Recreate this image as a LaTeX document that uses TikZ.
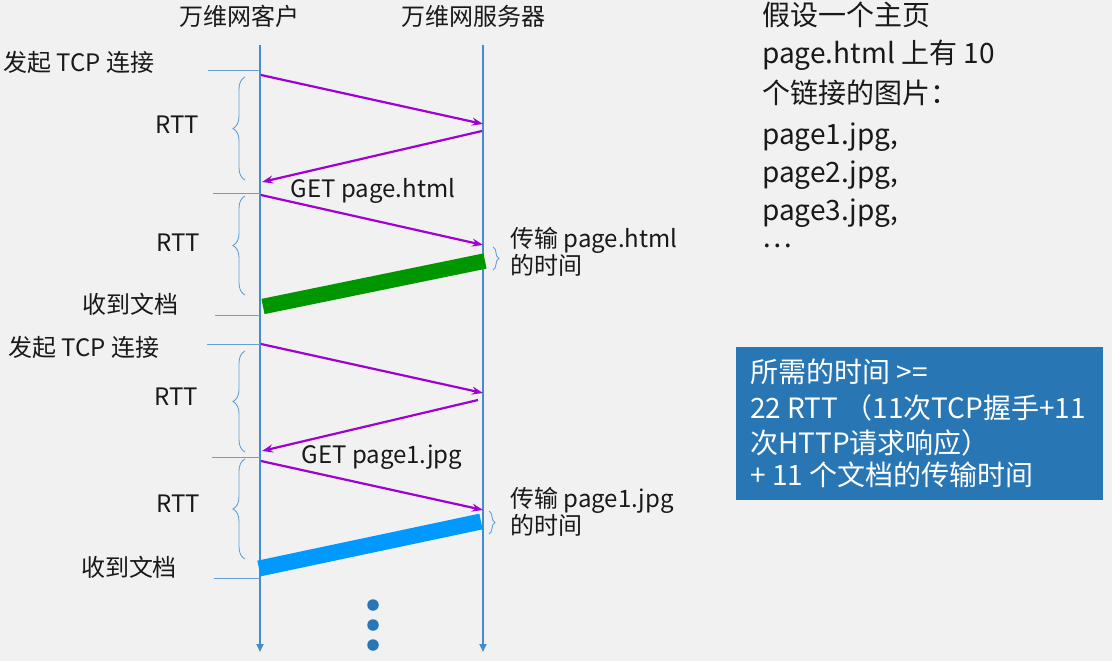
\documentclass[tikz,border=0pt]{standalone}
\usepackage{fontspec}
\setmainfont{Noto Sans CJK SC}
\usetikzlibrary{arrows.meta,decorations.pathreplacing}
\definecolor{bg}{RGB}{241,241,241}
\definecolor{lifeline}{RGB}{70,140,200}
\definecolor{tickc}{RGB}{100,160,215}
\definecolor{msg}{RGB}{160,0,210}
\definecolor{greenbar}{RGB}{0,150,0}
\definecolor{bluebar}{RGB}{0,153,255}
\definecolor{boxblue}{RGB}{40,118,180}
\definecolor{dotc}{RGB}{40,118,180}
\definecolor{ink}{RGB}{25,25,25}
\begin{document}
\begin{tikzpicture}[x=1pt,y=-1pt,
  lbl/.style={font=\fontsize{24}{28}\selectfont, inner sep=0pt, text=ink},
  big/.style={font=\fontsize{28}{34}\selectfont, inner sep=0pt, text=ink, anchor=base west},
  boxtxt/.style={font=\fontsize{28}{34}\selectfont, inner sep=0pt, text=white, anchor=base west},
  lifelinestyle/.style={draw=lifeline, line width=1.8pt, -{Triangle[length=8pt,width=7pt]}},
  tickline/.style={draw=tickc, line width=1pt},
  msgarrow/.style={draw=msg, line width=2.2pt, -{Stealth[length=11pt,width=8pt]}},
  rttbrace/.style={draw=tickc, line width=0.9pt, decorate, decoration={brace, amplitude=12pt}},
  smallbrace/.style={draw=tickc, line width=0.9pt, decorate, decoration={brace, amplitude=6pt}},
  dotstyle/.style={circle, fill=dotc, inner sep=0pt, minimum size=11.5pt}
]
\fill[bg] (0,0) rectangle (1112,661);
\useasboundingbox (0,0) rectangle (1112,661);

% headers
\node[lbl, anchor=base] (hc) at (239.5,26) {万维网客户};
\node[lbl, anchor=base] (hs) at (473.5,26) {万维网服务器};

% lifelines
\coordinate (cTop) at (260,45);
\coordinate (cBot) at (260,652);
\coordinate (sTop) at (483,45);
\coordinate (sBot) at (483,652);
\draw[lifelinestyle] (cTop) -- (cBot);
\draw[lifelinestyle] (sTop) -- (sBot);

% tick lines
\coordinate (t1a) at (208,71);  \coordinate (t1b) at (260,71);
\coordinate (t2a) at (213,193); \coordinate (t2b) at (260,193);
\coordinate (t3a) at (215,315); \coordinate (t3b) at (260,315);
\coordinate (t4a) at (207,344); \coordinate (t4b) at (260,344);
\coordinate (t5a) at (212,457); \coordinate (t5b) at (260,457);
\coordinate (t6a) at (214,578); \coordinate (t6b) at (260,578);
\foreach \i in {1,...,6} {\draw[tickline] (t\i a) -- (t\i b);}

% left labels
\node[lbl, anchor=base west] (tcp1) at (3,72) {发起 TCP 连接};
\node[lbl, anchor=base west] (tcp2) at (8,356) {发起 TCP 连接};
\node[lbl, anchor=base] (rtt1) at (177,133) {RTT};
\node[lbl, anchor=base] (rtt2) at (178,251) {RTT};
\node[lbl, anchor=base] (rtt3) at (176,405) {RTT};
\node[lbl, anchor=base] (rtt4) at (178,512) {RTT};
\node[lbl, anchor=base] (recv1) at (130,313) {收到文档};
\node[lbl, anchor=base] (recv2) at (129,576) {收到文档};
\node[lbl, anchor=base] (get1) at (373,197) {GET page.html};
\node[lbl, anchor=base] (get2) at (382,463) {GET page1.jpg};

% braces
\coordinate (b1b) at (245,180); \coordinate (b1t) at (245,77);
\coordinate (b2b) at (245,295); \coordinate (b2t) at (245,196);
\coordinate (b3b) at (245,452); \coordinate (b3t) at (245,351);
\coordinate (b4b) at (245,559); \coordinate (b4t) at (245,459);
\foreach \i in {1,...,4} {\draw[rttbrace] (b\i b) -- (b\i t);}
\coordinate (sb1t) at (493,247); \coordinate (sb1b) at (493,270);
\coordinate (sb2t) at (489,511); \coordinate (sb2b) at (489,534);
\draw[smallbrace] (sb1t) -- (sb1b);
\draw[smallbrace] (sb2t) -- (sb2b);

% messages
\coordinate (a1s) at (261,75);  \coordinate (a1e) at (483,124);
\coordinate (a2s) at (482,131); \coordinate (a2e) at (262,182);
\coordinate (a3s) at (261,195); \coordinate (a3e) at (483,245);
\coordinate (a4s) at (261,344); \coordinate (a4e) at (483,393);
\coordinate (a5s) at (478,400); \coordinate (a5e) at (262,451);
\coordinate (a6s) at (261,461); \coordinate (a6e) at (483,510);
\foreach \i in {1,...,6} {\draw[msgarrow] (a\i s) -- (a\i e);}

% transfer bars
\coordinate (g1) at (263,306.5); \coordinate (g2) at (485,261);
\coordinate (u1) at (259,568.5); \coordinate (u2) at (481,521.5);
\draw[greenbar, line width=15.5pt] (g1) -- (g2);
\draw[bluebar, line width=16pt] (u1) -- (u2);

% transfer labels
\node[lbl, anchor=base west] (tr1a) at (510,247) {传输 page.html};
\node[lbl, anchor=base west] (tr1b) at (510,274) {的时间};
\node[lbl, anchor=base west] (tr2a) at (510,507) {传输 page1.jpg};
\node[lbl, anchor=base west] (tr2b) at (510,534) {的时间};

% dots
\node[dotstyle] (d1) at (373,605) {};
\node[dotstyle] (d2) at (373,625) {};
\node[dotstyle] (d3) at (373,645) {};

% right text
\node[big] (r1) at (762,26) {假设一个主页};
\node[big] (r2) at (762,64) {page.html 上有 10};
\node[big] (r3) at (762,103) {个链接的图片：};
\node[big] (r4) at (762,144) {page1.jpg,};
\node[big] (r5) at (762,182) {page2.jpg,};
\node[big] (r6) at (762,220) {page3.jpg,};
\node[big] (r7) at (762,247) {…};

% box
\node[fill=boxblue, inner sep=0pt, minimum width=367pt, minimum height=153pt, anchor=north west] (box) at (736,347) {};
\node[boxtxt] (x1) at (750,382.5) {所需的时间 >=};
\node[boxtxt] (x2) at (750,418.5) {22 RTT （11次TCP握手+11};
\node[boxtxt] (x3) at (750,453.5) {次HTTP请求响应）};
\node[boxtxt] (x4) at (750,485.5) {+ 11 个文档的传输时间};
\end{tikzpicture}
\end{document}
